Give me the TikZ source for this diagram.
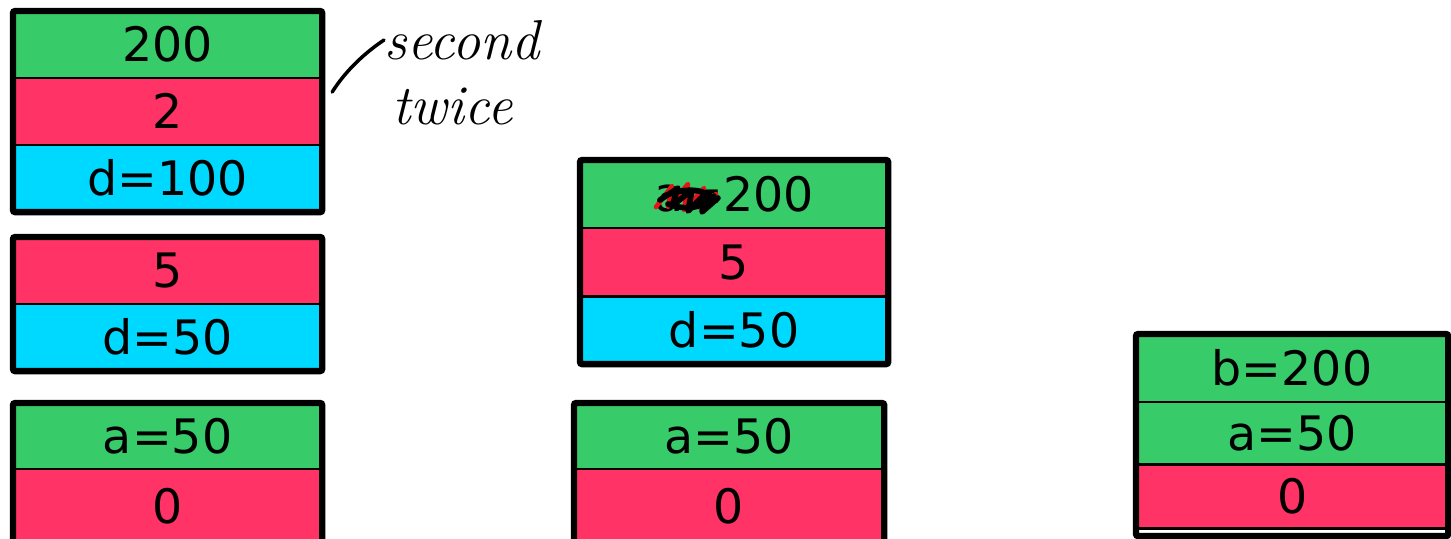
\documentclass[tikz,border=0pt]{standalone}
\usepackage{fontspec}
\usepackage{tikz}
\usetikzlibrary{positioning}
\newfontfamily\dejavu{DejaVu Sans}
\definecolor{gr}{RGB}{55,203,106}
\definecolor{ro}{RGB}{255,51,102}
\definecolor{cy}{RGB}{0,217,255}
\definecolor{sc}{RGB}{230,20,20}
\newcommand{\cellfont}{\dejavu\fontsize{13.5}{16}\selectfont}
\newcommand{\handfont}{\itshape\fontsize{16}{18}\selectfont}

\begin{document}
\begin{tikzpicture}[x=0.01cm,y=-0.01cm,
  cell/.style={draw,line width=0.8pt,inner sep=0pt,outer sep=0pt,minimum width=30.9mm,
    minimum height=6.7mm,font=\cellfont,text height=9.8pt,text depth=0pt},
  frame/.style={line width=1.8pt,rounded corners=0.6pt},
  hand/.style={line width=1pt,line cap=round,line join=round}]
  \useasboundingbox (0,0) rectangle (1451,538);
  \clip (0,0) rectangle (1451,538);

  % left stacks
  \node[cell,fill=gr,anchor=north west] (l1a) at (13,11) {200};
  \node[cell,fill=ro,below=0pt of l1a] (l1b) {2};
  \node[cell,fill=cy,below=0pt of l1b] (l1c) {d=100};
  \draw[frame] (l1a.north west) rectangle (l1c.south east);

  \node[cell,fill=ro,anchor=north west] (l2a) at (13,237) {5};
  \node[cell,fill=cy,below=0pt of l2a] (l2b) {d=50};
  \draw[frame] (l2a.north west) rectangle (l2b.south east);

  \node[cell,fill=gr,anchor=north west,minimum height=6.6mm] (l3a) at (13,403) {a=50};
  \node[cell,fill=ro,below=0pt of l3a,minimum height=7.5mm] (l3b) {0};
  \draw[frame] (l3a.north west) rectangle (l3b.south east);

  % middle stacks
  \node[cell,fill=gr,anchor=north west,minimum width=30.8mm,minimum height=6.8mm] (m1a) at (580,160) {a=200};
  \node[cell,fill=ro,below=0pt of m1a,minimum width=30.8mm,minimum height=6.8mm] (m1b) {5};
  \node[cell,fill=cy,below=0pt of m1b,minimum width=30.8mm,minimum height=6.8mm] (m1c) {d=50};
  \draw[frame] (m1a.north west) rectangle (m1c.south east);

  \node[cell,fill=gr,anchor=north west,minimum width=31mm,minimum height=6.6mm] (m2a) at (574,403) {a=50};
  \node[cell,fill=ro,below=0pt of m2a,minimum width=31mm,minimum height=7.5mm] (m2b) {0};
  \draw[frame] (m2a.north west) rectangle (m2b.south east);

  % right stack
  \node[cell,fill=gr,anchor=north west,minimum width=31.2mm,minimum height=6.8mm] (r1a) at (1136,334) {b=200};
  \node[cell,fill=gr,below=0pt of r1a,minimum width=31.2mm,minimum height=6.2mm] (r1b) {a=50};
  \node[cell,fill=ro,below=0pt of r1b,minimum width=31.2mm,minimum height=6.4mm] (r1c) {0};
  \draw[frame] (r1a.north west) rectangle ([yshift=-0.8mm]r1c.south east);

  % scribble over the old name
  \draw[hand,sc,line width=1.3pt] (656,207) -- (672,186) -- (668,207) -- (688,184) -- (684,210)
    -- (704,188) -- (700,208) -- (716,194);
  \draw[hand,line width=1.6pt] (660,200) -- (678,188) -- (672,206) -- (692,190) -- (688,211)
    -- (706,193) -- (702,212) -- (718,198) (664,196) .. controls (690,186) and (705,190) .. (716,200)
    (668,204) .. controls (690,212) and (704,206) .. (714,196);

  % handwritten note
  \node[anchor=west,font=\handfont,inner sep=0pt] (sec) at (384,40) {second};
  \node[anchor=west,font=\handfont,inner sep=0pt] (twi) at (392,106) {twice};
  \draw[hand] ([shift={(10,14)}]l1b.north east) .. controls (346,70) and (366,52) .. (sec.west);
\end{tikzpicture}
\end{document}
